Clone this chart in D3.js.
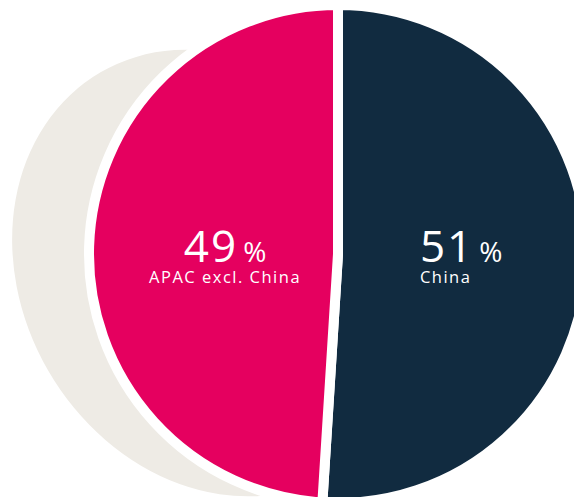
<!DOCTYPE html>
<html>
<head>
<meta charset="utf-8">
<script src="https://cdn.jsdelivr.net/npm/d3@7"></script>
<style>
    html, body { margin: 0; padding: 0; background: #fff; overflow: hidden; }
    svg { display: block; }
</style>
</head>
<body>
<script>
/* chart data */
var categories = [ "China", "APAC excl. China" ],
    shares     = [ 51, 49 ],
    unitLabel  = "%";

(function( w ) {

"use strict";

var /* private: */
    _d,             // default settings
    _svg,           // root svg
    _pie, _arc,     // d3 layouts

    /* _prep
     * builds the svg and the layouts
     */
    _prep = function ( ) {
        _svg = d3.select( document.body ).append("svg")
            .attr("width", _d.dimensions.width)
            .attr("height", _d.dimensions.height);

        _pie = d3.pie( ).sort( null ).value(function( d ){ return d.value; });
        _arc = d3.arc( ).innerRadius( 0 ).outerRadius( _d.radius );
    },

    /* _drawBacker
     * the pale tilted disc sitting behind the pie
     */
    _drawBacker = function ( ) {
        var b = _d.backer;
        _svg.append("ellipse")
            .attr("cx", b.cx).attr("cy", b.cy)
            .attr("rx", b.rx).attr("ry", b.ry)
            .attr("transform", "rotate(" + b.rotate + "," + b.cx + "," + b.cy + ")")
            .attr("fill", b.fill);
    },

    /* _drawPie
     * slices + their labels
     */
    _drawPie = function ( ) {
        var rows = categories.map(function( c, i ){ return { name : c, value : shares[i] }; }),
            arcs = _pie( rows ),
            g    = _svg.append("g").attr("transform", "translate(" + _d.center[0] + "," + _d.center[1] + ")"),
            lbl  = d3.arc( ).innerRadius( _d.labelRadius ).outerRadius( _d.labelRadius );

        g.selectAll("path.slice")
            .data( arcs )
            .enter( ).append("path")
            .attr("class", "slice")
            .attr("d", _arc)
            .attr("fill", function( d, i ){ return _d.colors[i]; })
            .attr("stroke", "#fff")
            .attr("stroke-width", _d.gap);

        /* labels sit on one line: x from the centroid, y from the pie centre */
        var labels = g.selectAll("g.label")
            .data( arcs )
            .enter( ).append("g")
            .attr("class", "label")
            .attr("transform", function( d, i ){
                var c = lbl.centroid( d );
                return "translate(" + ( c[0] + _d.labelShift[i] ) + ",0)";
            });

        var num = labels.append("text")
            .attr("y", _d.numBaseline)
            .attr("text-anchor", function( d, i ){ return _d.anchors[i]; })
            .attr("fill", "#fff")
            .style("font-family", _d.font);

        num.append("tspan")
            .attr("font-size", "44px")
            .attr("letter-spacing", "2px")
            .text(function( d ){ return d.data.value; });
        num.append("tspan")
            .attr("font-size", "28px")
            .attr("dx", 5)
            .text( unitLabel );

        labels.append("text")
            .attr("y", _d.nameBaseline)
            .attr("text-anchor", function( d, i ){ return _d.anchors[i]; })
            .attr("fill", "#fff")
            .attr("font-size", "16.5px")
            .attr("letter-spacing", "1.5px")
            .style("font-family", _d.font)
            .text(function( d ){ return d.data.name; });
    },

    /* domEntry
     * called once the page is ready
     */
    domEntry = function ( ) {
        _prep( );
        _drawBacker( );
        _drawPie( );
    };

/* Default setting definitions */
_d = {
    dimensions : { width : 574, height : 497 },
    center     : [ 338, 254 ],
    radius     : 249,
    gap        : 10,
    colors     : [ "#112b40", "#e5005f" ],
    backer     : { cx : 217, cy : 273, rx : 195, ry : 232, rotate : -30, fill : "#eeebe5" },
    labelRadius: 113,
    labelShift : [ -31, 0 ],
    anchors    : [ "start", "middle" ],
    numBaseline : 8,
    nameBaseline : 29,
    font       : "'Open Sans', sans-serif"
};

if( document.readyState === "loading" ){
    document.addEventListener("DOMContentLoaded", domEntry);
} else {
    domEntry( );
}

})( window );
</script>
</body>
</html>
